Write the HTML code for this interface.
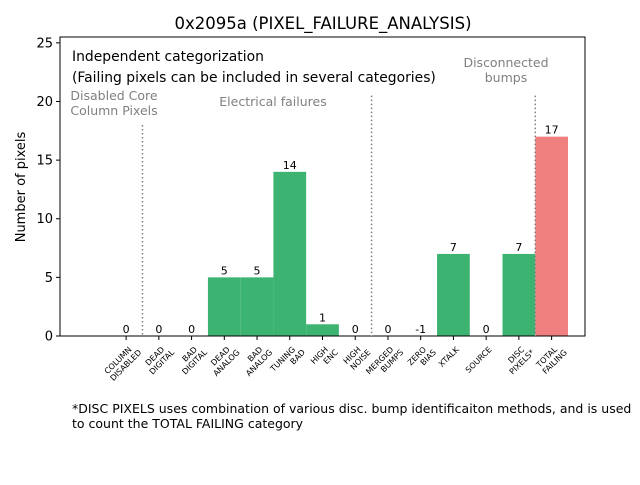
<!DOCTYPE html>
<html><head><meta charset="utf-8"><style>
body{margin:0;background:#fff;}
svg{font-family:"DejaVu Sans","Liberation Sans",sans-serif;}
</style></head><body>
<svg id="chart" width="640" height="480" viewBox="0 0 640 480">
<rect width="640" height="480" fill="#fff"/>
<text x="323" y="29" font-size="16.5" text-anchor="middle">0x2095a (PIXEL_FAILURE_ANALYSIS)</text>
<g id="bars"></g>
<g id="annot" font-size="12.5" fill="#808080">
<text x="114" y="100" text-anchor="middle">Disabled Core</text>
<text x="114" y="115" text-anchor="middle">Column Pixels</text>
<text x="273" y="106" text-anchor="middle">Electrical failures</text>
<text x="506" y="67" text-anchor="middle">Disconnected</text>
<text x="506" y="82" text-anchor="middle">bumps</text>
</g>
<text x="72" y="61" font-size="13.9">Independent categorization</text>
<text x="72" y="82" font-size="13.9">(Failing pixels can be included in several categories)</text>
<rect x="60" y="37" width="525" height="299" fill="none" stroke="#000" stroke-width="1"/>
<text transform="translate(25,187) rotate(-90)" font-size="13" text-anchor="middle">Number of pixels</text>
<text x="72" y="413" font-size="12.5">*DISC PIXELS uses combination of various disc. bump identificaiton methods, and is used</text>
<text x="72" y="428" font-size="12.5">to count the TOTAL FAILING category</text>
</svg>
<script>
const categories=["COLUMN\nDISABLED","DEAD\nDIGITAL","BAD\nDIGITAL","DEAD\nANALOG","BAD\nANALOG","TUNING\nBAD","HIGH\nENC","HIGH\nNOISE","MERGED\nBUMPS","ZERO\nBIAS","XTALK","SOURCE","DISC\nPIXELS*","TOTAL\nFAILING"];
const values=[0,0,0,5,5,14,1,0,0,-1,7,0,7,17];
const yTicks=[0,5,10,15,20,25];
const separators=[0.5,7.5,12.5];
const sepTops=[18,20.5,20.5];
const NS="http://www.w3.org/2000/svg";
const svg=document.getElementById('chart');
const bars=document.getElementById('bars');
const X0=60,X1=585,Y0=336,Y1=37,XMIN=-2.02,XMAX=14.02,YMIN=0,YMAX=25.5;
const x=i=>X0+(i-XMIN)/(XMAX-XMIN)*(X1-X0);
const y=v=>Y0-(Math.max(YMIN,v)-YMIN)/(YMAX-YMIN)*(Y0-Y1);
const bw=x(1)-x(0);
function mk(t,a,p){const e=document.createElementNS(NS,t);for(const k in a)e.setAttribute(k,a[k]);(p||svg).appendChild(e);return e;}
values.forEach((v,i)=>{
  const top=Math.max(v,0),bot=Math.min(v,0);
  const r=mk('rect',{x:x(i)-bw/2,y:y(top),width:bw,height:Math.max(0,y(bot)-y(top)),fill:i===values.length-1?'#f08080':'#3cb371'},bars);
  
  
  const t=mk('text',{x:x(i),y:y(Math.max(v,0))-3,'font-size':11,'text-anchor':'middle'});
  t.textContent=String(v);
  
  
  mk('line',{x1:x(i),x2:x(i),y1:Y0,y2:Y0+4,stroke:'#000'});
  const g=mk('text',{transform:`translate(${x(i)+6},${Y0+14}) rotate(-45)`,'font-size':8,'text-anchor':'end'});
  
  
  const lines=categories[i].split('\n');
  lines.forEach((s,k)=>{const ts=mk('tspan',{x:k===0?0:5,dy:k===0?0:9},g);ts.textContent=s;});
});
separators.forEach((s,k)=>{
  const l=mk('line',{x1:x(s),x2:x(s),y1:y(sepTops[k]),y2:Y0,stroke:'#808080','stroke-width':1.5,'stroke-dasharray':'1.5,2.5'});
  
  
});
yTicks.forEach(t=>{
  mk('line',{x1:X0-4,x2:X0,y1:y(t),y2:y(t),stroke:'#000'});
  const e=mk('text',{x:X0-7,y:y(t)+4.5,'font-size':13,'text-anchor':'end'});
  e.textContent=t;
  
  
});
</script>
</body></html>
